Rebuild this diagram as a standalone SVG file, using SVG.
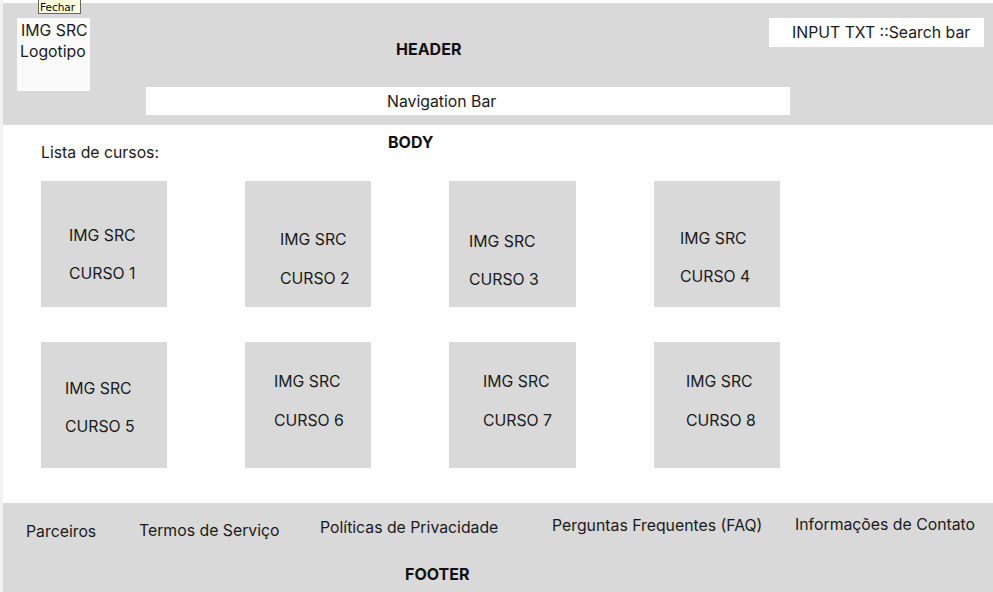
<svg xmlns="http://www.w3.org/2000/svg" width="993" height="592" viewBox="0 0 993 592">
  <style>
    .t { font-family: Inter, "Noto Sans", "Liberation Sans", sans-serif; font-size: 15.8px; fill: #1a1a1a; }
    .b { font-family: Inter, "Noto Sans", "Liberation Sans", sans-serif; font-size: 16px; font-weight: 700; fill: #111; }
    .band { fill: #d9d9d9; }
    .card { fill: #d9d9d9; }
    .box { fill: #ffffff; }
  </style>
  <rect x="0" y="0" width="993" height="592" fill="#ffffff"/>
  <rect x="0" y="0" width="3" height="592" fill="#f2f2f2"/>

  <!-- header band -->
  <g id="header">
    <rect class="band" x="3" y="3" width="990" height="122"/>
    <text class="b" x="396" y="55">HEADER</text>
  </g>
  <g id="logo">
    <rect x="17" y="18" width="73" height="73" fill="#fafafa"/>
    <text class="t" x="21" y="36">IMG SRC</text>
    <text class="t" x="20" y="57">Logotipo</text>
  </g>
  <g id="search">
    <rect class="box" x="769" y="18" width="215" height="29"/>
    <text class="t" x="792" y="38">INPUT TXT ::Search bar</text>
  </g>
  <g id="nav">
    <rect class="box" x="146" y="87" width="644" height="28"/>
    <text class="t" x="387" y="107">Navigation Bar</text>
  </g>
  <g id="tooltip">
    <rect x="38.5" y="-0.5" width="42" height="14" fill="#ffffe1" stroke="#666" stroke-width="1"/>
    <text x="40" y="10.5" font-family="'DejaVu Sans', Arial, sans-serif" font-size="10.5" fill="#000">Fechar</text>
  </g>

  <!-- body -->
  <g id="body">
    <text class="b" x="388" y="148">BODY</text>
    <text class="t" x="41" y="158">Lista de cursos:</text>
  </g>
  <g id="curso1">
    <rect class="card" x="41" y="181" width="126" height="126"/>
    <text class="t" x="69" y="241">IMG SRC</text>
    <text class="t" x="69" y="279">CURSO 1</text>
  </g>
  <g id="curso2">
    <rect class="card" x="245" y="181" width="126" height="126"/>
    <text class="t" x="280" y="245">IMG SRC</text>
    <text class="t" x="280" y="284">CURSO 2</text>
  </g>
  <g id="curso3">
    <rect class="card" x="449" y="181" width="127" height="126"/>
    <text class="t" x="469" y="247">IMG SRC</text>
    <text class="t" x="469" y="285">CURSO 3</text>
  </g>
  <g id="curso4">
    <rect class="card" x="654" y="181" width="126" height="126"/>
    <text class="t" x="680" y="244">IMG SRC</text>
    <text class="t" x="680" y="282">CURSO 4</text>
  </g>
  <g id="curso5">
    <rect class="card" x="41" y="342" width="126" height="126"/>
    <text class="t" x="65" y="394">IMG SRC</text>
    <text class="t" x="65" y="432">CURSO 5</text>
  </g>
  <g id="curso6">
    <rect class="card" x="245" y="342" width="126" height="126"/>
    <text class="t" x="274" y="387">IMG SRC</text>
    <text class="t" x="274" y="426">CURSO 6</text>
  </g>
  <g id="curso7">
    <rect class="card" x="449" y="342" width="127" height="126"/>
    <text class="t" x="483" y="387">IMG SRC</text>
    <text class="t" x="483" y="426">CURSO 7</text>
  </g>
  <g id="curso8">
    <rect class="card" x="654" y="342" width="126" height="126"/>
    <text class="t" x="686" y="387">IMG SRC</text>
    <text class="t" x="686" y="426">CURSO 8</text>
  </g>

  <!-- footer band -->
  <g id="footer">
    <rect class="band" x="3" y="503" width="990" height="89"/>
    <text class="t" x="26" y="537">Parceiros</text>
    <text class="t" x="139" y="536">Termos de Serviço</text>
    <text class="t" x="320" y="533">Políticas de Privacidade</text>
    <text class="t" x="552" y="531">Perguntas Frequentes (FAQ)</text>
    <text class="t" x="795" y="530">Informações de Contato</text>
    <text class="b" x="405" y="580">FOOTER</text>
  </g>

  <g id="connectors"></g>
</svg>
